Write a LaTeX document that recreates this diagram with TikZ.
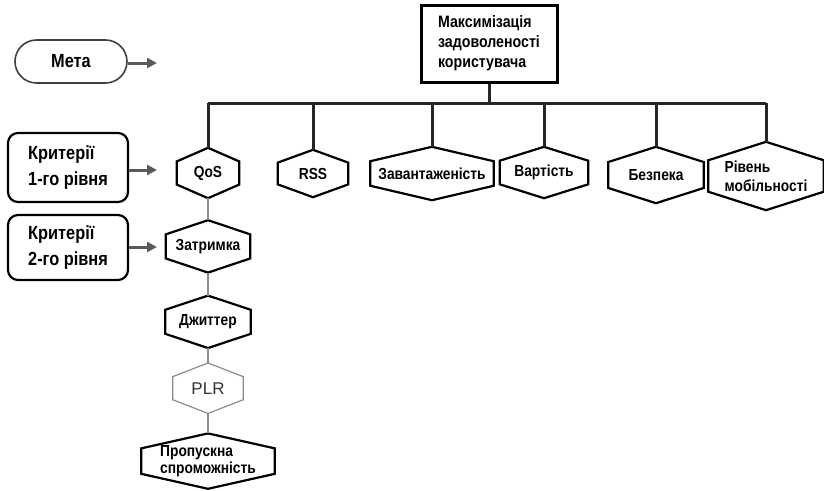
\documentclass[tikz,border=0pt]{standalone}
\usepackage{fontspec}
\setmainfont{Liberation Sans}
\newfontfamily\narrowsans[FakeStretch=0.86]{Liberation Sans}
\usepackage{tikz}
\usetikzlibrary{arrows.meta, positioning, calc, shapes.misc}
\definecolor{arrowgray}{HTML}{5A5A5A}
\definecolor{linkgray}{HTML}{8C8C8C}

\begin{document}
\begin{tikzpicture}[
      x=1pt, y=1pt,
      hexa/.style={font=\narrowsans\fontsize{16}{19}\selectfont\bfseries, align=center,
                   inner sep=0pt,
                   append after command={\pgfextra{\draw[#1]
                     (\tikzlastnode.north)
                     -- ($(\tikzlastnode.north east)!.27!(\tikzlastnode.south east)$)
                     -- ($(\tikzlastnode.north east)!.73!(\tikzlastnode.south east)$)
                     -- (\tikzlastnode.south)
                     -- ($(\tikzlastnode.north west)!.73!(\tikzlastnode.south west)$)
                     -- ($(\tikzlastnode.north west)!.27!(\tikzlastnode.south west)$)
                     -- cycle;}}},
      hexa/.default={line width=2.2pt, line join=miter},
      level/.style={rounded corners=10pt, draw, line width=2.2pt,
                    minimum width=120pt, align=left, inner xsep=14pt,
                    font=\narrowsans\fontsize{19}{26}\selectfont\bfseries},
      goalbox/.style={draw, line width=3pt, minimum width=136pt,
                      minimum height=77pt, align=left,
                      font=\narrowsans\fontsize{16.5}{20}\selectfont\bfseries},
      pointer/.style={-{Triangle[length=10pt, width=10pt]}, arrowgray,
                      line width=3pt},
      bus/.style={line width=3pt, black!85},
      link/.style={line width=1.6pt, linkgray},
    ]
    \useasboundingbox (0,0) rectangle (824,-490);

    % goal
    \node[goalbox] (goal) at (489,-43.5)
      {Максимізація\\задоволеності\\користувача};

    % level 1 criteria
    \node[hexa, minimum width=62pt, minimum height=50pt] (qos) at (208,-173) {QoS};
    \node[hexa, minimum width=70pt, minimum height=47pt] (rss) at (313,-173.5) {RSS};
    \node[hexa, minimum width=123pt, minimum height=53pt] (load) at (432,-173.5) {Завантаженість};
    \node[hexa, minimum width=88pt, minimum height=51pt] (cost) at (544,-172.5) {Вартість};
    \node[hexa, minimum width=95pt, minimum height=56pt] (secur) at (656,-175) {Безпека};
    \node[hexa, minimum width=115pt, minimum height=68pt, align=left] (mobil) at (766,-176)
      {Рівень\\мобільності};

    % level 2 criteria
    \node[hexa, minimum width=84pt, minimum height=52pt, below=22pt of qos] (delay) {Затримка};
    \node[hexa, minimum width=85pt, minimum height=52pt, below=23pt of delay] (jitter) {Джиттер};
    \node[hexa={draw=linkgray, line width=1.2pt}, minimum width=70pt, minimum height=50pt,
          font=\fontsize{17}{20}\selectfont, text=black!80, below=15pt of jitter] (plr) {PLR};
    \node[hexa, minimum width=133pt, minimum height=55pt, align=left,
          font=\narrowsans\fontsize{16}{17}\selectfont\bfseries, below=20pt of plr] (bandw)
      {Пропускна\\спроможність};

    % level labels
    \node[level, rounded corners=21.5pt, line width=1.6pt, draw=black!75,
          minimum width=112pt, minimum height=43pt, align=center] (meta) at (71,-61.5) {Мета};
    \node[level, minimum height=69pt] (crit1) at (68,-167.5) {Критерії\\1-го рівня};
    \node[level, minimum height=65pt] (crit2) at (68,-247.5) {Критерії\\2-го рівня};

    \coordinate (metaend) at (157,-63);
    \coordinate (crit1end) at (157,-170);
    \coordinate (crit2end) at (157,-247);
    \draw[pointer] (meta.east |- metaend) -- (metaend);
    \draw[pointer] (crit1.east |- crit1end) -- (crit1end);
    \draw[pointer] (crit2.east |- crit2end) -- (crit2end);

    % tree
    \coordinate (busy) at (0,-103);
    \draw[bus] (goal.south) -- (goal.south |- busy);
    \draw[bus] (qos.north |- busy) -- (mobil.north |- busy);
    \foreach \n in {qos, rss, load, cost, secur, mobil}
      \draw[bus] (\n.north |- busy) -- (\n.north);

    \draw[link] (qos) -- (delay);
    \draw[link] (delay) -- (jitter);
    \draw[link] (jitter) -- (plr);
    \draw[link] (plr) -- (bandw);
  \end{tikzpicture}
\end{document}
